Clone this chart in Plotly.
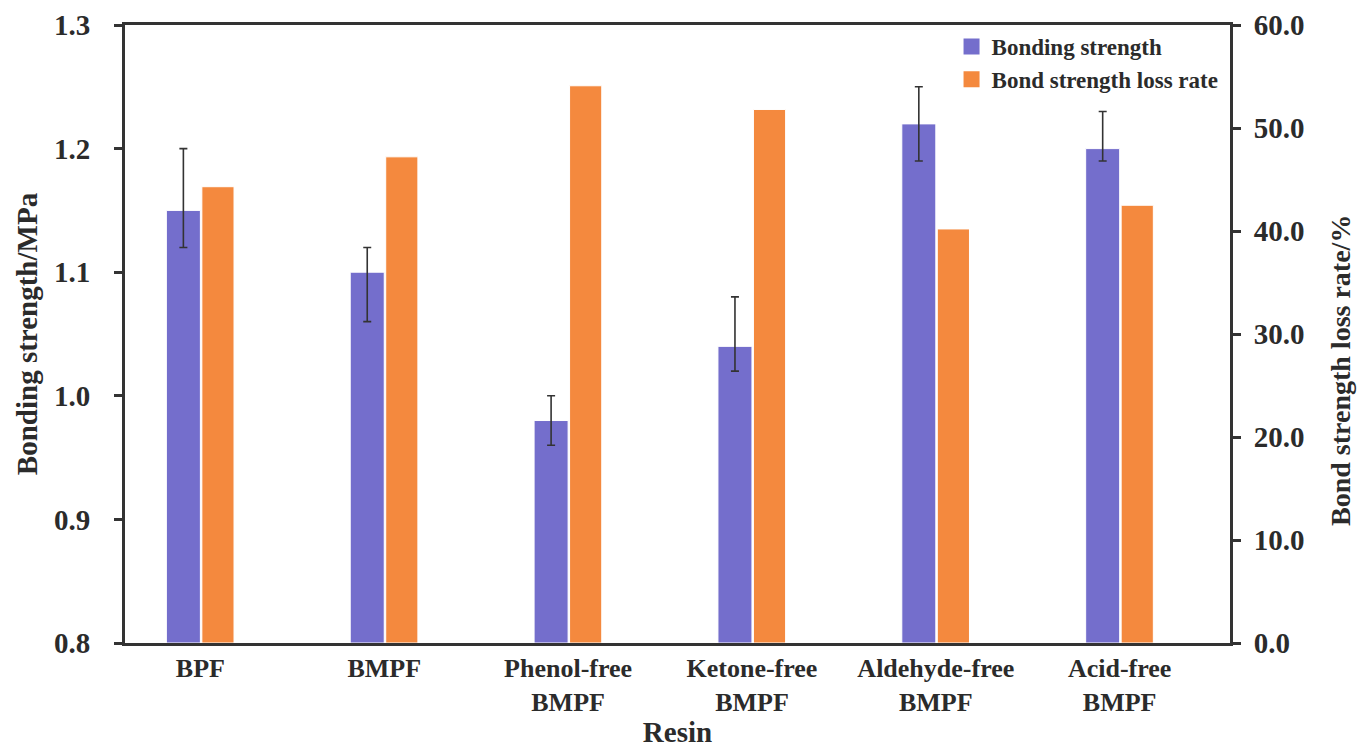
import plotly.graph_objects as go

categories = ["BPF", "BMPF", "Phenol-free<br>BMPF", "Ketone-free<br>BMPF",
              "Aldehyde-free<br>BMPF", "Acid-free<br>BMPF"]
bond_strength = [1.15, 1.10, 0.98, 1.04, 1.22, 1.20]
err_plus = [0.05, 0.02, 0.02, 0.04, 0.03, 0.03]
err_minus = [0.03, 0.04, 0.02, 0.02, 0.03, 0.01]
loss_rate = [44.3, 47.2, 54.1, 51.8, 40.2, 42.5]

left_ticks = [0.8, 0.9, 1.0, 1.1, 1.2, 1.3]
right_ticks = [0, 10, 20, 30, 40, 50, 60]

FONT = "Liberation Serif"
TXT = "#2b2b2b"
LINE = "#333333"
BLUE = "#746ECC"
ORANGE = "#F4893E"
BASE = 0.8

x_idx = list(range(len(categories)))

fig = go.Figure()
fig.add_trace(go.Bar(
    x=x_idx, y=[v - BASE for v in bond_strength], base=BASE,
    name="Bonding strength", showlegend=False,
    marker=dict(color=BLUE, line=dict(color="white", width=1)),
    width=0.185, offset=-0.185, yaxis="y",
    error_y=dict(type="data", symmetric=False, array=err_plus, arrayminus=err_minus,
                 color=LINE, thickness=1.6, width=4),
))
fig.add_trace(go.Bar(
    x=x_idx, y=loss_rate, name="Bond strength loss rate", showlegend=False,
    marker=dict(color=ORANGE, line=dict(color="white", width=1)),
    width=0.175, offset=0.008, yaxis="y2",
))
# legend entries with larger square swatches
for nm, col in [("Bonding strength", BLUE), ("Bond strength loss rate", ORANGE)]:
    fig.add_trace(go.Scatter(
        x=[None], y=[None], mode="markers", name=nm,
        marker=dict(symbol="square", size=24, color=col), yaxis="y",
    ))

fig.update_layout(
    width=1367, height=748,
    margin=dict(l=125, r=137, t=25, b=105),
    paper_bgcolor="white", plot_bgcolor="white",
    showlegend=True,
    barmode="overlay",
    legend=dict(x=0.748, y=1.0, xanchor="left", yanchor="top",
                bgcolor="rgba(0,0,0,0)", itemsizing="trace",
                font=dict(family=FONT, size=23, color=TXT, weight="bold"),
                tracegroupgap=0, itemwidth=30),
    xaxis=dict(
        range=[-0.41, 5.6], tickmode="array", tickvals=x_idx, ticktext=categories,
        showline=True, linecolor=LINE, linewidth=3, mirror=True,
        ticks="", showgrid=False, zeroline=False, automargin=False,
        tickfont=dict(family=FONT, size=26, color=TXT, weight="bold"),
        title=dict(text="Resin", font=dict(family=FONT, size=29, color=TXT, weight="bold"),
                   standoff=4),
    ),
    yaxis=dict(
        range=[0.8, 1.3], tickmode="array", tickvals=left_ticks,
        ticktext=[f"{v:.1f}" for v in left_ticks],
        showline=True, linecolor=LINE, linewidth=3,
        ticks="outside", ticklen=8, tickwidth=3, tickcolor=LINE,
        ticklabelstandoff=18,
        showgrid=False, zeroline=False, automargin=False,
        tickfont=dict(family=FONT, size=29, color=TXT, weight="bold"),
        title=dict(text="Bonding strength/MPa",
                   font=dict(family=FONT, size=29, color=TXT, weight="bold"), standoff=8),
    ),
    yaxis2=dict(
        range=[0, 60], tickmode="array", tickvals=right_ticks,
        ticktext=[f"{v:.1f}" for v in right_ticks],
        overlaying="y", side="right",
        showline=True, linecolor=LINE, linewidth=3,
        ticks="outside", ticklen=8, tickwidth=3, tickcolor=LINE,
        ticklabelstandoff=7,
        showgrid=False, zeroline=False, automargin=False,
        tickfont=dict(family=FONT, size=29, color=TXT, weight="bold"),
    ),
    annotations=[dict(
        text="Bond strength loss rate/%", textangle=-90,
        xref="paper", yref="paper", x=1.0, xshift=110, xanchor="center",
        y=1 - (371 - 25) / 618, yanchor="middle", showarrow=False,
        font=dict(family=FONT, size=28, color=TXT, weight="bold"),
    )],
)

fig.write_html("out.html", config={"displayModeBar": False},
               post_script="document.body.style.margin='0';document.body.style.padding='0';")
